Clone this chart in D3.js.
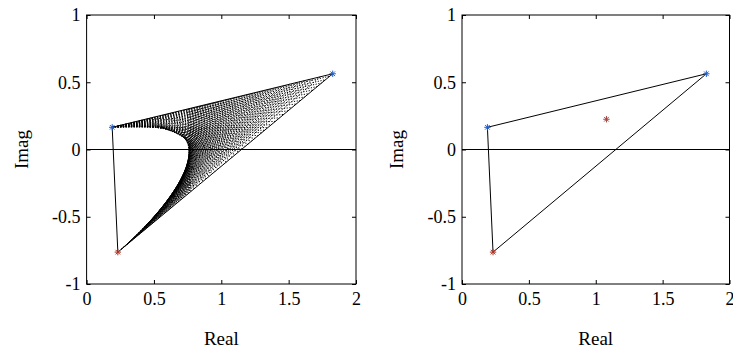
<!DOCTYPE html>
<html>
<head>
<meta charset="utf-8">
<script src="https://cdn.jsdelivr.net/npm/d3@7"></script>
<style>
  body { margin: 0; background: #fff; }
  svg { display: block; }
  text { font-family: "Liberation Serif", "Times New Roman", serif; fill: #000; }
</style>
</head>
<body>
<svg id="chart" width="733" height="351"></svg>
<script>
// Poles in the complex plane: A, B, C
const poleRe = [0.19, 1.827, 0.232];
const poleIm = [0.165, 0.563, -0.763];
// Extra marked point
const markRe = [1.08];
const markIm = [0.225];
// Chords of the sweep: position of each end as a fraction of the edge,
// measured from vertex B towards A (first end) and towards C (second end)
const chordTowardA = [0.057,0.086,0.109,0.130,0.149,0.166,0.182,0.197,0.211,0.225,
  0.238,0.251,0.264,0.276,0.287,0.299,0.310,0.320,0.331,0.341,0.351,0.361,0.371,
  0.381,0.390,0.400,0.409,0.418,0.427,0.435,0.444,0.452,0.461,0.469,0.477,0.486,
  0.494,0.502,0.510,0.517,0.525,0.533,0.540,0.548,0.555,0.563,0.570,0.577,0.584,
  0.591,0.599,0.606,0.613,0.619,0.626,0.633,0.640,0.647,0.653,0.660,
  0.674,0.687,0.701,0.714,0.728,0.741,0.755,0.768,0.783,0.797,0.811,0.826,0.840,
  0.854,0.866,0.878,0.890,0.902,0.915,0.927,0.940,0.952,0.964,0.977,0.990,
  1,1,1,1,1,1,1,1,1,1,1,1,1,1,1];
const chordTowardC = [0.995,0.990,0.985,0.980,0.975,0.970,0.965,0.959,0.954,0.949,
  0.944,0.939,0.934,0.928,0.923,0.918,0.912,0.907,0.902,0.896,0.891,0.886,0.880,
  0.875,0.869,0.864,0.858,0.853,0.847,0.842,0.836,0.830,0.825,0.819,0.813,0.807,
  0.802,0.796,0.790,0.784,0.778,0.772,0.766,0.760,0.754,0.748,0.742,0.736,0.730,
  0.724,0.718,0.711,0.705,0.699,0.692,0.686,0.679,0.673,0.666,0.660,
  0.646,0.632,0.618,0.604,0.590,0.576,0.562,0.548,0.534,0.521,0.508,0.495,0.482,
  0.468,0.453,0.437,0.422,0.407,0.392,0.377,0.362,0.347,0.331,0.317,0.302,
  0.286,0.267,0.247,0.228,0.208,0.189,0.169,0.150,0.130,0.111,0.091,0.072,0.052,
  0.033,0.013];
const xTicks = [0, 0.5, 1, 1.5, 2];
const yTicks = [-1, -0.5, 0, 0.5, 1];
const xDomain = [0, 2];
const yDomain = [-1, 1];

const svg = d3.select("#chart");
const panels = [
  { left: 86.6, right: 356.0, chords: true, marks: false },
  { left: 462.0, right: 729.5, chords: false, marks: true }
];
const plotTop = 15, plotBottom = 284;

const poles = poleRe.map((re, i) => ({ re, im: poleIm[i] }));
const marks = markRe.map((re, i) => ({ re, im: markIm[i] }));

function asterisk(g, x, y, color) {
  const r = 3.2, d = r * 0.72;
  g.append("path")
    .attr("d", `M${x - r},${y}H${x + r}M${x},${y - r}V${y + r}` +
               `M${x - d},${y - d}L${x + d},${y + d}M${x - d},${y + d}L${x + d},${y - d}`)
    .attr("stroke", color).attr("stroke-width", 1).attr("fill", "none");
}

panels.forEach(p => {
  const x = d3.scaleLinear().domain(xDomain).range([p.left, p.right]);
  const y = d3.scaleLinear().domain(yDomain).range([plotBottom, plotTop]);
  const g = svg.append("g");

  // zero line of the imaginary axis
  g.append("line")
    .attr("x1", x(xDomain[0])).attr("x2", x(xDomain[1]))
    .attr("y1", y(0)).attr("y2", y(0))
    .attr("stroke", "#000").attr("stroke-width", 1);

  const [A, B, C] = poles;
  if (p.chords) {
    const chords = chordTowardA.map((fa, i) => {
      const fc = chordTowardC[i];
      return {
        x1: B.re + fa * (A.re - B.re), y1: B.im + fa * (A.im - B.im),
        x2: B.re + fc * (C.re - B.re), y2: B.im + fc * (C.im - B.im)
      };
    });
    g.append("g").selectAll("line").data(chords).join("line")
      .attr("x1", d => x(d.x1)).attr("y1", d => y(d.y1))
      .attr("x2", d => x(d.x2)).attr("y2", d => y(d.y2))
      .attr("stroke", "#000").attr("stroke-width", 1)
      .attr("stroke-dasharray", "1.2,1.5");
  }

  // triangle through the poles
  const ring = [A, B, C, A];
  g.append("path")
    .attr("d", d3.line().x(d => x(d.re)).y(d => y(d.im))(ring))
    .attr("fill", "none").attr("stroke", "#000").attr("stroke-width", 1);

  const poleColors = ["#1f5fd0", "#1f5fd0", "#b03020"];
  poles.forEach((d, i) => asterisk(g, x(d.re), y(d.im), poleColors[i]));
  if (p.marks) marks.forEach(d => asterisk(g, x(d.re), y(d.im), "#a04040"));

  // axes box with inward ticks on all sides
  g.append("rect")
    .attr("x", p.left).attr("y", plotTop)
    .attr("width", p.right - p.left).attr("height", plotBottom - plotTop)
    .attr("fill", "none").attr("stroke", "#000").attr("stroke-width", 1);

  const axB = g.append("g").attr("transform", `translate(0,${plotBottom})`)
    .call(d3.axisBottom(x).tickValues(xTicks).tickFormat(d3.format("")).tickSizeInner(-4).tickSizeOuter(0).tickPadding(8));
  const axT = g.append("g").attr("transform", `translate(0,${plotTop})`)
    .call(d3.axisTop(x).tickValues(xTicks).tickFormat("").tickSizeInner(-4).tickSizeOuter(0));
  const axL = g.append("g").attr("transform", `translate(${p.left},0)`)
    .call(d3.axisLeft(y).tickValues(yTicks).tickFormat(d3.format("")).tickSizeInner(-4).tickSizeOuter(0).tickPadding(6));
  const axR = g.append("g").attr("transform", `translate(${p.right},0)`)
    .call(d3.axisRight(y).tickValues(yTicks).tickFormat("").tickSizeInner(-4).tickSizeOuter(0));
  [axB, axT, axL, axR].forEach(a => {
    a.select(".domain").remove();
    a.selectAll("line").attr("stroke", "#000");
    a.selectAll("text").attr("font-size", 18).attr("font-family", "Liberation Serif, serif").attr("fill", "#000");
  });
  axL.selectAll("text").text(d => d < 0 ? "-" + Math.abs(d) : String(d));

  // axis titles
  g.append("text")
    .attr("x", (p.left + p.right) / 2).attr("y", 345)
    .attr("text-anchor", "middle").attr("font-size", 19)
    .text("Real");
  g.append("text")
    .attr("transform", `translate(${p.left - 58.6},${(plotTop + plotBottom) / 2}) rotate(-90)`)
    .attr("text-anchor", "middle").attr("font-size", 19)
    .text("Imag");
});
</script>
</body>
</html>
